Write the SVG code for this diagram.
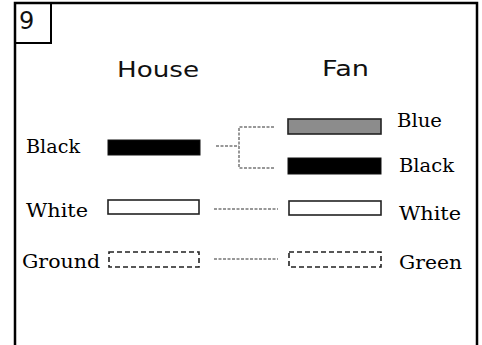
<svg xmlns="http://www.w3.org/2000/svg" width="482" height="345" viewBox="0 0 482 345">
<style>
.serif{font-family:"DejaVu Serif","Liberation Serif",serif;font-size:19px;fill:#000}
.sans{font-family:"DejaVu Sans","Liberation Sans",sans-serif;font-size:21px;fill:#111}
.conn{fill:none;stroke:#777;stroke-width:1.5;stroke-dasharray:3 1.5}
.solid{fill:#000;stroke:#111;stroke-width:1}
.white{fill:#fff;stroke:#222;stroke-width:1.6}
.gnd{fill:#fff;stroke:#222;stroke-width:1.6;stroke-dasharray:5 3}
.blue{fill:#8c8c8c;stroke:#222;stroke-width:1.6}
</style>
<rect x="0" y="0" width="482" height="345" fill="#fff"/>
<g id="frame">
<path d="M15,350 V3 H477 V350" fill="none" stroke="#000" stroke-width="2.5"/>
<rect x="15" y="3" width="36" height="40" fill="none" stroke="#000" stroke-width="2"/>
<text x="19" y="29" style="font-family:'DejaVu Sans','Liberation Sans',sans-serif;font-size:24px;fill:#111">9</text>
</g>
<g id="headers">
<text class="sans" x="117" y="77" textLength="82" lengthAdjust="spacingAndGlyphs">House</text>
<text class="sans" x="322" y="76" textLength="47" lengthAdjust="spacingAndGlyphs">Fan</text>
</g>
<g id="house-black">
<rect class="solid" x="108" y="140" width="92" height="15"/>
<text class="serif" x="26" y="153" textLength="54" lengthAdjust="spacingAndGlyphs">Black</text>
</g>
<g id="house-white">
<rect class="white" x="108" y="200" width="91" height="14"/>
<text class="serif" x="26" y="217" textLength="62" lengthAdjust="spacingAndGlyphs">White</text>
</g>
<g id="house-ground">
<rect class="gnd" x="109" y="252" width="90" height="15"/>
<text class="serif" x="22" y="268" textLength="78" lengthAdjust="spacingAndGlyphs">Ground</text>
</g>
<g id="fan-blue">
<rect class="blue" x="288" y="119" width="93" height="15"/>
<text class="serif" x="397" y="127" textLength="45" lengthAdjust="spacingAndGlyphs">Blue</text>
</g>
<g id="fan-black">
<rect class="solid" x="288" y="158" width="93" height="16"/>
<text class="serif" x="399" y="172" textLength="55" lengthAdjust="spacingAndGlyphs">Black</text>
</g>
<g id="fan-white">
<rect class="white" x="289" y="201" width="92" height="14"/>
<text class="serif" x="399" y="220" textLength="62" lengthAdjust="spacingAndGlyphs">White</text>
</g>
<g id="fan-green">
<rect class="gnd" x="289" y="252" width="92" height="15"/>
<text class="serif" x="399" y="269" textLength="63" lengthAdjust="spacingAndGlyphs">Green</text>
</g>
<g id="connectors">
<path class="conn" d="M216,146 H239 M274,127 H239 V168 H274"/>
<path class="conn" d="M214,209 H278"/>
<path class="conn" d="M214,259 H278"/>
</g>
</svg>
